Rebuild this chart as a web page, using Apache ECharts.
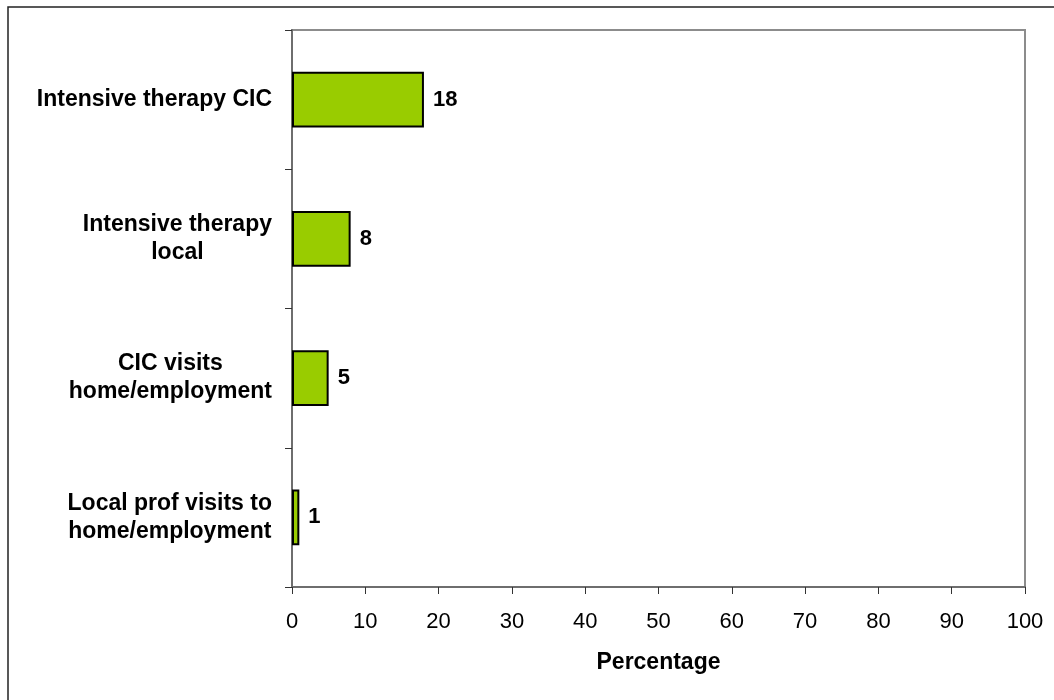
<!DOCTYPE html>
<html>
<head>
<meta charset="utf-8">
<script src="https://cdn.jsdelivr.net/npm/echarts@6/dist/echarts.min.js"></script>
<style>
  html, body { margin: 0; padding: 0; background: #fff; }
  #chart { width: 1054px; height: 700px; }
</style>
</head>
<body>
<div id="chart"></div>
<script>
// Care setting categories, top to bottom
const categories = [
  'Intensive therapy CIC',
  'Intensive therapy\nlocal',
  'CIC visits\nhome/employment',
  'Local prof visits to\nhome/employment'
];
// Percentage for each category
const values = [18, 8, 5, 1];
// Percentage axis ticks
const xMin = 0;
const xMax = 100;
const xStep = 10;

const font = 'Arial, "Liberation Sans", sans-serif';

const chart = echarts.init(document.getElementById('chart'));
chart.setOption({
  backgroundColor: '#fff',
  animation: false,
  graphic: [{
    type: 'rect',
    shape: { x: 8, y: 7, width: 1200, height: 900 },
    style: { fill: 'none', stroke: '#222', lineWidth: 1.5 },
    silent: true
  }],
  grid: {
    left: 292, right: 29, top: 30, bottom: 113,
    show: true, borderColor: '#8c8c8c', borderWidth: 2,
    backgroundColor: 'transparent'
  },
  xAxis: {
    type: 'value',
    min: xMin, max: xMax, interval: xStep,
    name: 'Percentage',
    nameLocation: 'middle',
    nameGap: 64,
    nameTextStyle: { fontFamily: font, fontSize: 23, fontWeight: 'bold', color: '#000' },
    axisLine: { show: true, lineStyle: { color: '#6e6e6e', width: 2 } },
    axisTick: { show: true, inside: false, length: 7, lineStyle: { color: '#333', width: 1 } },
    axisLabel: { fontFamily: font, fontSize: 22, color: '#000', margin: 24 },
    splitLine: { show: false }
  },
  yAxis: {
    type: 'category',
    data: categories,
    inverse: true,
    axisLine: { show: true, lineStyle: { color: '#6e6e6e', width: 2 } },
    axisTick: { show: true, alignWithLabel: false, length: 7, lineStyle: { color: '#333', width: 1 } },
    axisLabel: {
      margin: 20,
      align: 'right',
      formatter: function (v) {
        return v.split('\n').map(function (s) { return '{c|' + s + '}'; }).join('\n');
      },
      rich: {
        c: {
          align: 'center',
          fontFamily: font, fontSize: 23, fontWeight: 'bold', color: '#000',
          lineHeight: 28
        }
      }
    },
    splitLine: { show: false }
  },
  series: [{
    type: 'bar',
    data: values,
    barCategoryGap: '60%',
    itemStyle: { color: '#99CC00', borderColor: '#000', borderWidth: 2 },
    label: {
      show: true, position: 'right', distance: 9,
      fontFamily: font, fontSize: 22, fontWeight: 'bold', color: '#000'
    }
  }]
});
</script>
</body>
</html>
